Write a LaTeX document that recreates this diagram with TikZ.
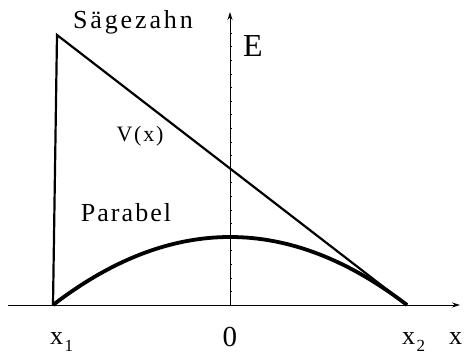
\documentclass[tikz,border=0pt]{standalone}
\usepackage{fontspec}
\setmainfont{Liberation Serif}
\newfontfamily\spacedfont[LetterSpace=8]{Liberation Serif}
\newfontfamily\widefont[LetterSpace=11]{Liberation Serif}
\usetikzlibrary{arrows.meta,positioning}
\tikzset{
    axis/.style={line width=0.8pt, -{Stealth[length=8pt,width=5pt]}},
    tick/.style={line width=0.4pt},
    saw/.style={line width=2.2pt, line join=miter},
    parab/.style={line width=3.8pt},
    lbl/.style={inner sep=0pt, anchor=base},
    lblw/.style={inner sep=0pt, anchor=base west},
}
\newcommand{\sub}[1]{\kern1.5pt\raisebox{-7pt}{\fontsize{17}{17}\selectfont #1}}
\begin{document}
\begin{tikzpicture}[x=1pt, y=1pt]
    \useasboundingbox (-230,-51) rectangle (239,305);
    \coordinate (o) at (0,0);
    \coordinate (x1) at (-177,0);
    \coordinate (x2) at (177,0);
    \coordinate (top) at (-173,270);
    \coordinate (xstart) at (-222,0);
    \coordinate (xend) at (230,0);
    \coordinate (eend) at (0,293);

    \draw[axis] (xstart) -- (xend);
    \draw[axis] (o) -- (eend);
    \foreach \k in {1,...,20}
        \draw[tick] (0,\k*13.6) -- ++(2,0);

    \draw[saw] (x1) -- (top) -- (x2);
    \draw[parab] (x1) .. controls (-59,90.67) and (59,90.67) .. (x2);

    \node[lbl, font=\widefont\fontsize{26}{30}\selectfont] (saegezahn) at (-97,276) {Sägezahn};
    \node[lbl, font=\fontsize{32}{36}\selectfont] (e) at (23,248) {E};
    \node[lbl, font=\spacedfont\fontsize{22}{26}\selectfont] (vx) at (-90,163) {V(x)};
    \node[lbl, font=\spacedfont\fontsize{26}{30}\selectfont] (parabel) at (-104,83) {Parabel};
    \node[lbl, font=\fontsize{29}{33}\selectfont] (null) at (0,-42) {0};
    \node[lblw, font=\fontsize{26}{30}\selectfont] (lx1) at (-180,-40) {x\sub{1}};
    \node[lblw, font=\fontsize{26}{30}\selectfont] (lx2) at (172,-40) {x\sub{2}};
    \node[lblw, font=\fontsize{26}{30}\selectfont] (lx) at (219,-40) {x};
\end{tikzpicture}
\end{document}
